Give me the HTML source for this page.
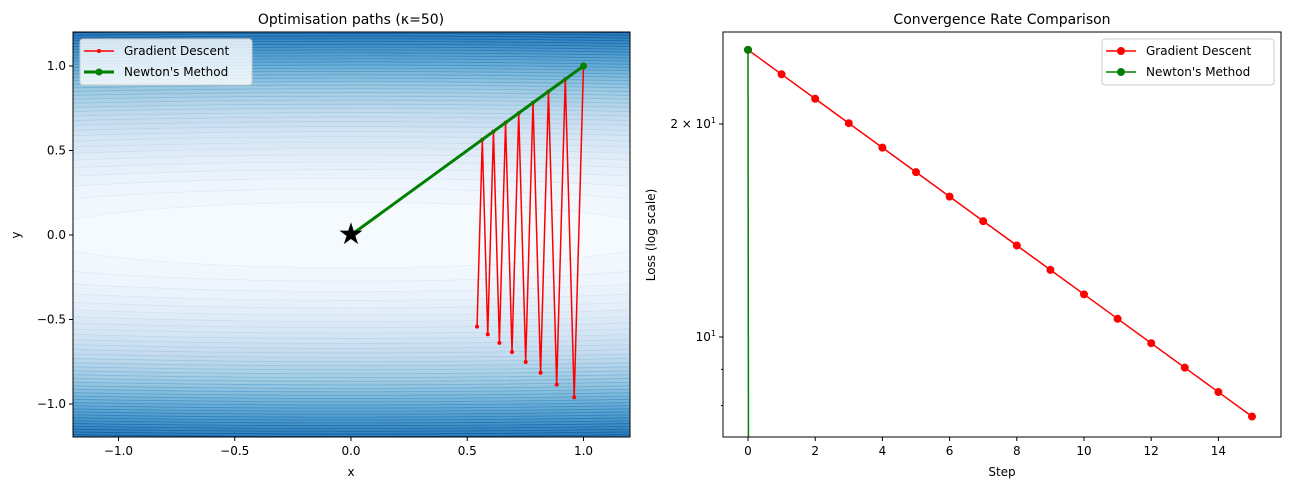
<!DOCTYPE html>
<html><head><meta charset="utf-8"><style>
html,body{margin:0;background:#fff;font-family:"Liberation Sans",sans-serif;overflow:hidden;width:1289px;height:490px}
svg{display:block}
svg text{font-family:"DejaVu Sans","Liberation Sans",sans-serif}
</style></head><body>
<svg id="c" width="1289" height="490" xmlns="http://www.w3.org/2000/svg">
<defs><clipPath id="clipL"><rect x="73" y="32" width="557" height="405"/></clipPath>
<clipPath id="clipR"><rect x="723" y="32" width="558" height="405"/></clipPath></defs>
<g id="left"></g>
<g id="right"></g>
</svg>
<script>
const gdX=[1,0.96,0.9216,0.8847,0.8493,0.8154,0.7828,0.7514,0.7214,0.6925,0.6648,0.6382,0.6127,0.5882,0.5647,0.5421];
const gdY=[1,-0.96,0.9216,-0.8847,0.8493,-0.8154,0.7828,-0.7514,0.7214,-0.6925,0.6648,-0.6382,0.6127,-0.5882,0.5647,-0.5421];
const ntX=[1,0];
const ntY=[1,0];
const xTicksL=[-1.0,-0.5,0.0,0.5,1.0];
const yTicksL=[-1.0,-0.5,0.0,0.5,1.0];
const steps=[0,1,2,3,4,5,6,7,8,9,10,11,12,13,14,15];
const gdLoss=[25.46,23.51,21.71,20.05,18.52,17.10,15.79,14.58,13.47,12.44,11.49,10.61,9.80,9.05,8.36,7.72];
const ntLoss=[25.46,1e-40];
const xTicksR=[0,2,4,6,8,10,12,14];
const NS="http://www.w3.org/2000/svg";
function mk(p,t,a,txt){const e=document.createElementNS(NS,t);for(const k in a)e.setAttribute(k,a[k]);if(txt!==undefined)e.textContent=txt;p.appendChild(e);return e;}
const L=document.getElementById('left'),R=document.getElementById('right');
const lx=v=>351+v*232.5, ly=v=>235-v*169;
function blues(t){const s=[[247,251,255],[222,235,247],[198,219,239],[158,202,225],[107,174,214],[66,146,198],[33,113,181],[8,81,156],[8,48,107]];t=Math.max(0,Math.min(1,t))*(s.length-1);const i=Math.min(Math.floor(t),s.length-2),f=t-i;return 'rgb('+s[i].map((c,j)=>Math.round(c+(s[i+1][j]-c)*f)).join(',')+')';}
const cg=mk(L,'g',{'clip-path':'url(#clipL)'});


mk(cg,'rect',{x:73,y:32,width:557,height:405,fill:blues(0)});
const maxF=73.44,nLev=40;
for(let k=nLev;k>=1;k--){const lev=maxF*k/nLev*1.02;const a=Math.sqrt(lev),b=Math.sqrt(lev/50);
mk(cg,'ellipse',{cx:lx(0),cy:ly(0),rx:a*232.5,ry:b*169,fill:blues((k-0.5)/nLev*0.74),stroke:blues(k/nLev*0.8+0.08),'stroke-width':0.8});}
const pg=mk(L,'g',{'clip-path':'url(#clipL)'});


mk(pg,'polyline',{points:gdX.map((x,i)=>lx(x)+','+ly(gdY[i])).join(' '),fill:'none',stroke:'red','stroke-width':1.5});
gdX.forEach((x,i)=>mk(pg,'circle',{cx:lx(x),cy:ly(gdY[i]),r:2,fill:'red'}));
const ng=mk(L,'g',{});


mk(ng,'polyline',{points:ntX.map((x,i)=>lx(x)+','+ly(ntY[i])).join(' '),fill:'none',stroke:'green','stroke-width':3});
ntX.forEach((x,i)=>mk(ng,'circle',{cx:lx(x),cy:ly(ntY[i]),r:3.5,fill:'green'}));
const st=mk(L,'text',{x:lx(0),y:ly(0)+9,'text-anchor':'middle','font-size':30,fill:'#000'},'★');


mk(L,'rect',{x:73,y:32,width:557,height:405,fill:'none',stroke:'#000','stroke-width':1});
xTicksL.forEach(v=>{mk(L,'line',{x1:lx(v),x2:lx(v),y1:437,y2:441,stroke:'#000'});mk(L,'text',{x:lx(v),y:455,'text-anchor':'middle','font-size':12},v.toFixed(1).replace('-','−'));});
yTicksL.forEach(v=>{mk(L,'line',{x1:69,x2:73,y1:ly(v),y2:ly(v),stroke:'#000'});mk(L,'text',{x:66,y:ly(v)+4,'text-anchor':'end','font-size':12},v.toFixed(1).replace('-','−'));});
mk(L,'text',{x:351,y:476,'text-anchor':'middle','font-size':12},'x');
mk(L,'text',{x:20,y:235,'text-anchor':'middle','font-size':12,transform:'rotate(-90 20 235)'},'y');
mk(L,'text',{x:351,y:24,'text-anchor':'middle','font-size':14},'Optimisation paths (κ=50)');
const lg=mk(L,'g',{});


mk(lg,'rect',{x:80,y:39,width:172,height:46,rx:3,fill:'rgba(255,255,255,0.8)',stroke:'#ccc'});
mk(lg,'line',{x1:84,x2:114,y1:51,y2:51,stroke:'red','stroke-width':1.5});mk(lg,'circle',{cx:99,cy:51,r:2,fill:'red'});
mk(lg,'text',{x:124,y:55,'font-size':12},'Gradient Descent');
mk(lg,'line',{x1:84,x2:114,y1:72,y2:72,stroke:'green','stroke-width':3});mk(lg,'circle',{cx:99,cy:72,r:3.5,fill:'green'});
mk(lg,'text',{x:124,y:76,'font-size':12},"Newton's Method");
const rx=v=>748+v*33.6, ry=v=>337-(Math.log10(v)-1)*707.6;
const rg=mk(R,'g',{'clip-path':'url(#clipR)'});
mk(rg,'polyline',{points:steps.slice(0,ntLoss.length).map((s,i)=>rx(s)+','+ry(ntLoss[i])).join(' '),fill:'none',stroke:'green','stroke-width':1.5});
mk(rg,'polyline',{points:steps.map((s,i)=>rx(s)+','+ry(gdLoss[i])).join(' '),fill:'none',stroke:'red','stroke-width':1.5});
steps.forEach((s,i)=>{const c=mk(rg,'circle',{cx:rx(s),cy:ry(gdLoss[i]),r:4,fill:'red'});});
ntLoss.forEach((v,i)=>{const c=mk(rg,'circle',{cx:rx(steps[i]),cy:ry(v),r:4,fill:'green'});});
mk(R,'rect',{x:723,y:32,width:558,height:405,fill:'none',stroke:'#000'});
xTicksR.forEach(v=>{mk(R,'line',{x1:rx(v),x2:rx(v),y1:437,y2:441,stroke:'#000'});mk(R,'text',{x:rx(v),y:455,'text-anchor':'middle','font-size':12},String(v));});
[20,10].forEach(v=>mk(R,'line',{x1:719,x2:723,y1:ry(v),y2:ry(v),stroke:'#000'}));
[8,9].forEach(v=>mk(R,'line',{x1:721,x2:723,y1:ry(v),y2:ry(v),stroke:'#000'}));
const t1=mk(R,'text',{x:716,y:ry(20)+4,'text-anchor':'end','font-size':12},'2 × 10');mk(t1,'tspan',{dy:-5,'font-size':8},'1');
const t2=mk(R,'text',{x:716,y:ry(10)+4,'text-anchor':'end','font-size':12},'10');mk(t2,'tspan',{dy:-5,'font-size':8},'1');
mk(R,'text',{x:1002,y:476,'text-anchor':'middle','font-size':12},'Step');
mk(R,'text',{x:655,y:235,'text-anchor':'middle','font-size':12,transform:'rotate(-90 655 235)'},'Loss (log scale)');
mk(R,'text',{x:1002,y:24,'text-anchor':'middle','font-size':14},'Convergence Rate Comparison');
const lr=mk(R,'g',{});


mk(lr,'rect',{x:1102,y:39,width:172,height:46,rx:3,fill:'#fff',stroke:'#ccc'});
mk(lr,'line',{x1:1106,x2:1136,y1:51,y2:51,stroke:'red','stroke-width':1.5});mk(lr,'circle',{cx:1121,cy:51,r:4,fill:'red'});
mk(lr,'text',{x:1146,y:55,'font-size':12},'Gradient Descent');
mk(lr,'line',{x1:1106,x2:1136,y1:72,y2:72,stroke:'green','stroke-width':1.5});mk(lr,'circle',{cx:1121,cy:72,r:4,fill:'green'});
mk(lr,'text',{x:1146,y:76,'font-size':12},"Newton's Method");
</script>
</body></html>
